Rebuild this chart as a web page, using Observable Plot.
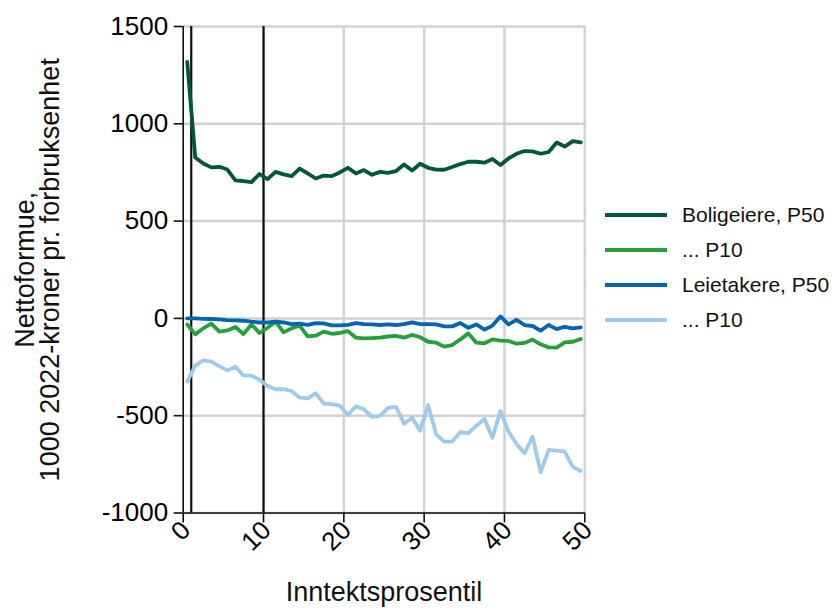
<!DOCTYPE html>
<html><head><meta charset="utf-8">
<script src="https://cdn.jsdelivr.net/npm/d3@7"></script>
<script src="https://cdn.jsdelivr.net/npm/@observablehq/plot@0.6"></script>
<style>
body{margin:0;background:#fff;font-family:"Liberation Sans",Arial,sans-serif;}
#wrap{position:relative;width:832px;height:608px;overflow:hidden;}
#legend{position:absolute;left:605px;top:197px;}
.row{display:flex;align-items:center;height:35px;}
.sw{width:62px;height:4px;margin-right:15px;}
.lab{font-size:21px;color:#111;white-space:nowrap;}
</style></head><body>
<div id="wrap"><div id="chart"></div><div id="legend"></div></div>
<script>
const percentiles = [0.5,1.5,2.5,3.5,4.5,5.5,6.5,7.5,8.5,9.5,10.5,11.5,12.5,13.5,14.5,15.5,16.5,17.5,18.5,19.5,20.5,21.5,22.5,23.5,24.5,25.5,26.5,27.5,28.5,29.5,30.5,31.5,32.5,33.5,34.5,35.5,36.5,37.5,38.5,39.5,40.5,41.5,42.5,43.5,44.5,45.5,46.5,47.5,48.5,49.5];
const boligeiereP50 = [1318,827,796,776,779,765,709,706,700,742,716,753,740,731,770,745,719,734,731,750,774,745,762,738,753,748,757,791,760,795,774,765,764,778,793,805,805,800,819,788,822,846,860,858,846,855,904,883,911,904];
const boligeiereP10 = [-31,-82,-51,-27,-68,-62,-44,-80,-31,-75,-48,-17,-72,-51,-37,-92,-89,-68,-79,-75,-65,-99,-103,-101,-99,-93,-90,-99,-85,-97,-120,-125,-145,-137,-108,-77,-125,-128,-108,-114,-116,-130,-126,-109,-133,-149,-150,-123,-120,-106];
const leietakereP50 = [0,0,-2,-3,-5,-9,-10,-12,-17,-21,-21,-17,-21,-29,-27,-33,-24,-26,-36,-36,-33,-24,-29,-31,-34,-31,-34,-29,-20,-29,-29,-31,-41,-41,-24,-48,-31,-58,-37,10,-31,-8,-34,-39,-63,-34,-55,-43,-51,-46];
const leietakereP10 = [-325,-243,-216,-222,-245,-267,-248,-293,-294,-316,-347,-364,-363,-373,-407,-411,-385,-438,-440,-448,-496,-452,-467,-506,-501,-460,-455,-541,-510,-577,-445,-596,-633,-633,-585,-589,-551,-517,-613,-476,-582,-645,-693,-608,-791,-676,-679,-684,-763,-784];
const seriesNames = ["Boligeiere, P50", "Boligeiere, P10", "Leietakere, P50", "Leietakere, P10"];
const seriesColors = ["#00573c", "#25a03a", "#0564b4", "#9ccbef"];
const legendLabels = ["Boligeiere, P50", "... P10", "Leietakere, P50", "... P10"];
const yTicks = [-1000, -500, 0, 500, 1000, 1500];
const xTicks = [0, 10, 20, 30, 40, 50];
const referenceLines = [1, 10];
const yLabel = "Nettoformue,\n1000 2022-kroner pr. forbruksenhet";
const xLabel = "Inntektsprosentil";

const allValues = [boligeiereP50, boligeiereP10, leietakereP50, leietakereP10];
const data = allValues.flatMap((vals, k) => vals.map((v, i) => ({x: percentiles[i], y: v, s: seriesNames[k]})));

const chart = Plot.plot({
  width: 832, height: 608,
  marginLeft: 182.7, marginRight: 247.7, marginTop: 26, marginBottom: 95.5,
  style: {fontFamily: "'Liberation Sans', Arial, sans-serif", fontSize: "26px", color: "#000", background: "#fff"},
  x: {domain: [0, 50]},
  y: {domain: [-1000, 1500]},
  color: {domain: seriesNames, range: seriesColors},
  marks: [
    Plot.gridX(xTicks.filter(d => d > 0), {stroke: "#d2d2d2", strokeOpacity: 1, strokeWidth: 2.5}),
    Plot.gridY(yTicks, {stroke: "#d2d2d2", strokeOpacity: 1, strokeWidth: 2.5}),
    Plot.ruleX(referenceLines, {stroke: "#111", strokeWidth: 2.2}),
    Plot.lineY(data, {x: "x", y: "y", z: "s", stroke: "s", strokeWidth: 3.8}),
    Plot.ruleX([0], {stroke: "#111", strokeWidth: 1.6}),
    Plot.ruleY([-1000], {stroke: "#111", strokeWidth: 1.6}),
    Plot.axisY(yTicks, {tickSize: 9, tickPadding: 6, fontSize: 26, label: null, stroke: "#111", strokeWidth: 1.6, tickFormat: d => String(d)}),
    Plot.axisX(xTicks, {tickSize: 10, label: null, stroke: "#111", strokeWidth: 1.6, tickFormat: () => ""}),
    Plot.axisX(xTicks, {tickSize: 0, tickPadding: 13, tickRotate: -45, fontSize: 26, dx: 3, label: null, tickFormat: d => String(d)}),
    Plot.text([xLabel], {frameAnchor: "bottom", dy: 88, fontSize: 27, fill: "#111"}),
    Plot.text([yLabel], {frameAnchor: "left", textAnchor: "middle", rotate: -90, dx: -145, fontSize: 27, lineHeight: 0.93, fill: "#111"})
  ]
});
document.getElementById("chart").appendChild(chart);

const legend = document.getElementById("legend");
legendLabels.forEach((name, i) => {
  const row = document.createElement("div");
  row.className = "row";
  const sw = document.createElement("div");
  sw.className = "sw";
  sw.style.background = seriesColors[i];
  const lab = document.createElement("div");
  lab.className = "lab";
  lab.textContent = name;
  row.appendChild(sw); row.appendChild(lab);
  legend.appendChild(row);
});
</script>
</body></html>
